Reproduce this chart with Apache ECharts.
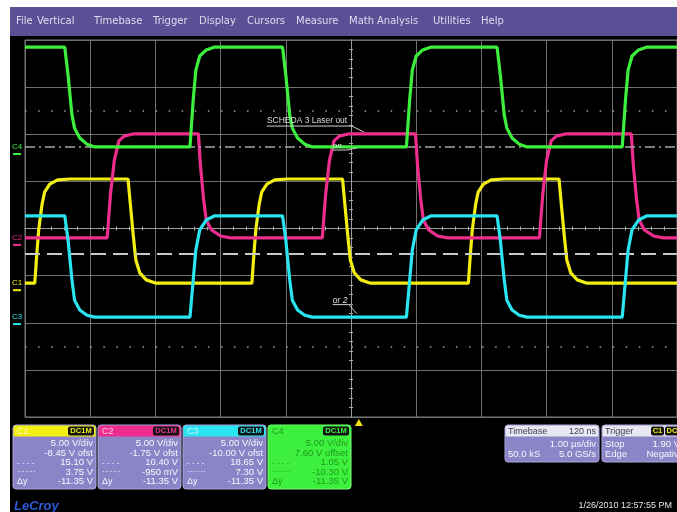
<!DOCTYPE html>
<html>
<head>
<meta charset="utf-8">
<script src="https://cdn.jsdelivr.net/npm/echarts@6/dist/echarts.min.js"></script>
<style>
  html, body { margin: 0; padding: 0; background: #ffffff; }
  #scope { width: 677px; height: 512px; }
</style>
</head>
<body>
<div id="scope"></div>
<script>
// ---- Menu bar ----
const menuItems = ['File', 'Vertical', 'Timebase', 'Trigger', 'Display', 'Cursors', 'Measure', 'Math', 'Analysis', 'Utilities', 'Help'];

// ---- Traces: [time (µs, 1 µs/div), vertical position (divisions from centre)] ----
const c1Trace = [
  [-5.00,-1.16],
  [-4.85,-1.16],[-4.82,-0.56],[-4.79,-0.03],[-4.74,0.50],[-4.70,0.77],[-4.62,0.94],[-4.50,1.03],[-4.31,1.05],
  [-3.42,1.05],[-3.39,0.60],[-3.34,-0.14],[-3.30,-0.67],[-3.24,-0.94],[-3.14,-1.09],[-2.99,-1.16],
  [-1.52,-1.16],[-1.49,-0.56],[-1.46,-0.03],[-1.41,0.50],[-1.37,0.77],[-1.29,0.94],[-1.17,1.03],[-0.98,1.05],
  [-0.13,1.05],[-0.10,0.60],[-0.05,-0.14],[-0.01,-0.67],[0.05,-0.94],[0.15,-1.09],[0.30,-1.16],
  [1.80,-1.16],[1.83,-0.56],[1.86,-0.03],[1.91,0.50],[1.95,0.77],[2.03,0.94],[2.15,1.03],[2.34,1.05],
  [3.19,1.05],[3.22,0.60],[3.27,-0.14],[3.31,-0.67],[3.37,-0.94],[3.47,-1.09],[3.62,-1.16],
  [5.00,-1.16]
];
const c2Trace = [
  [-5.00,-0.20],
  [-3.74,-0.20],[-3.69,0.71],[-3.63,1.45],[-3.56,1.86],[-3.48,1.96],[-3.33,2.01],
  [-2.34,2.01],[-2.31,1.35],[-2.26,0.61],[-2.22,0.18],[-2.14,-0.03],[-2.00,-0.16],[-1.85,-0.20],
  [-0.44,-0.20],[-0.39,0.71],[-0.33,1.45],[-0.26,1.86],[-0.18,1.96],[-0.03,2.01],
  [0.99,2.01],[1.02,1.35],[1.07,0.61],[1.11,0.18],[1.19,-0.03],[1.33,-0.16],[1.48,-0.20],
  [2.89,-0.20],[2.94,0.71],[3.00,1.45],[3.07,1.86],[3.15,1.96],[3.30,2.01],
  [4.30,2.01],[4.33,1.35],[4.38,0.61],[4.42,0.18],[4.50,-0.03],[4.64,-0.16],[4.79,-0.20],
  [5.00,-0.20]
];
const c3Trace = [
  [-5.00,0.27],
  [-4.39,0.27],[-4.34,-0.24],[-4.28,-1.09],[-4.24,-1.52],[-4.16,-1.73],[-4.05,-1.84],[-3.93,-1.88],
  [-2.47,-1.88],[-2.42,-1.09],[-2.38,-0.46],[-2.32,-0.03],[-2.22,0.18],[-2.09,0.27],
  [-1.05,0.27],[-1.00,-0.24],[-0.94,-1.09],[-0.90,-1.52],[-0.82,-1.73],[-0.71,-1.84],[-0.59,-1.88],
  [0.85,-1.88],[0.90,-1.09],[0.94,-0.46],[1.00,-0.03],[1.10,0.18],[1.23,0.27],
  [2.24,0.27],[2.29,-0.24],[2.35,-1.09],[2.39,-1.52],[2.47,-1.73],[2.58,-1.84],[2.70,-1.88],
  [4.16,-1.88],[4.21,-1.09],[4.25,-0.46],[4.31,-0.03],[4.41,0.18],[4.54,0.27],
  [5.00,0.27]
];
const c4Trace = [
  [-5.00,3.85],
  [-4.39,3.85],[-4.34,3.26],[-4.28,2.41],[-4.24,2.13],[-4.16,1.92],[-4.05,1.79],[-3.93,1.73],
  [-2.47,1.73],[-2.42,2.73],[-2.38,3.36],[-2.32,3.66],[-2.22,3.79],[-2.09,3.85],
  [-1.05,3.85],[-1.00,3.26],[-0.94,2.41],[-0.90,2.13],[-0.82,1.92],[-0.71,1.79],[-0.59,1.73],
  [0.85,1.73],[0.90,2.73],[0.94,3.36],[1.00,3.66],[1.10,3.79],[1.23,3.85],
  [2.24,3.85],[2.29,3.26],[2.35,2.41],[2.39,2.13],[2.47,1.92],[2.58,1.79],[2.70,1.73],
  [4.16,1.73],[4.21,2.73],[4.25,3.36],[4.31,3.66],[4.41,3.79],[4.54,3.85],
  [5.00,3.85]
];

// ---- Channel info ----
const chanNames   = ['C1', 'C2', 'C3', 'C4'];
const chanColors  = ['#f2ee12', '#ee2e8e', '#2ae4f0', '#3ef03e'];
const chanTraces  = [c1Trace, c2Trace, c3Trace, c4Trace];
const chanGround  = [-1.16, -0.20, -1.88, 1.73];   // ground marker levels (div)
const chanScale   = ['5.00 V/div', '5.00 V/div', '5.00 V/div', '5.00 V/div'];
const chanOffset  = ['-8.45 V ofst', '-1.75 V ofst', '-10.00 V ofst', '7.60 V offset'];
const cursorA     = ['15.10 V', '10.40 V', '18.65 V', '1.05 V'];
const cursorB     = ['3.75 V', '-950 mV', '7.30 V', '-10.30 V'];
const cursorDelta = ['-11.35 V', '-11.35 V', '-11.35 V', '-11.35 V'];

// ---- Cursors, graticule and trigger ----
const cursorDashDot = 1.73;
const cursorDashed  = -0.54;
const dottedRows    = [2.5, -2.5];
const triggerTime   = 0.12;

// ---- Timebase / trigger box ----
const timebaseText = { title: 'Timebase', delay: '120 ns', scale: '1.00 µs/div', samples: '50.0 kS', rate: '5.0 GS/s' };
const triggerText  = { title: 'Trigger', source: 'C1', coupling: 'DC', mode: 'Stop', level: '1.90 V', type: 'Edge', slope: 'Negative' };
const stampText = '1/26/2010 12:57:55 PM';

const FONT = '"Liberation Sans", Arial, sans-serif';
const MENU_FONT = '"DejaVu Sans", Verdana, sans-serif';
const chart = echarts.init(document.getElementById('scope'), null, { renderer: 'canvas' });

const gridLine = '#707070';
const axisCommon = {
  type: 'value',
  axisLabel: { show: false },
  axisTick: { show: false },
  axisLine: { onZero: true, lineStyle: { color: '#9c9c9c', width: 1 } },
  minorTick: { show: true, splitNumber: 5, length: 2, lineStyle: { color: '#a8a8a8', width: 1 } }
};

chart.setOption({
  animation: false,
  backgroundColor: '#000000',
  grid: { left: 25, top: 40, width: 653, height: 377, show: true, borderColor: '#7a7a7a', borderWidth: 1, containLabel: false },
  xAxis: [
    Object.assign({}, axisCommon, { min: -5, max: 5, interval: 1, position: 'bottom',
      splitLine: { show: true, lineStyle: { color: gridLine, width: 1 } } }),
    Object.assign({}, axisCommon, { min: -5, max: 5, interval: 1, position: 'top', splitLine: { show: false } })
  ],
  yAxis: [
    Object.assign({}, axisCommon, { min: -4, max: 4, interval: 1, position: 'left',
      splitLine: { show: true, lineStyle: { color: gridLine, width: 1 } } }),
    Object.assign({}, axisCommon, { min: -4, max: 4, interval: 1, position: 'right', splitLine: { show: false } })
  ],
  series: [
    {
      type: 'line', data: [], silent: true,
      markLine: {
        silent: true, symbol: 'none', label: { show: false }, animation: false,
        data: [
          ...dottedRows.map(v => ({ yAxis: v, lineStyle: { color: '#a0a0a0', type: [1.5, 11.56], width: 1.5 } })),
          { yAxis: cursorDashDot, lineStyle: { color: '#a8a8a8', type: [10, 4, 2, 4], width: 1.5 } },
          { yAxis: cursorDashed, lineStyle: { color: '#c8c8c8', type: [15, 7], width: 2 } }
        ]
      }
    },
    ...chanTraces.map((d, i) => ({
      name: chanNames[i], type: 'line', data: d, showSymbol: false, symbol: 'none',
      lineStyle: { color: chanColors[i], width: 3.2 }, silent: true, z: 3 + i
    }))
  ]
});

// ---- Decorations (menu, labels, info boxes) ----
const px = (t, v) => chart.convertToPixel({ xAxisIndex: 0, yAxisIndex: 0 }, [t, v]);
const g = [];
const txt = (x, y, text, fill, font, align) => g.push({
  type: 'text', silent: true, z: 100,
  style: { x, y, text, fill, font, textAlign: align || 'left', textVerticalAlign: 'middle' }
});
const rect = (x, y, w, h, fill, r, stroke) => g.push({
  type: 'rect', silent: true, z: 99,
  shape: { x, y, width: w, height: h, r: r || 0 },
  style: { fill, stroke: stroke || null, lineWidth: stroke ? 1 : 0 }
});
const f = (size, style) => `${style ? style + ' ' : ''}${size}px ${FONT}`;

// white margins and menu bar
rect(0, 0, 677, 7, '#ffffff');
rect(0, 0, 10, 512, '#ffffff');
rect(10, 7, 667, 29, '#5a5096');
const menuX = [16, 37, 94, 153, 199, 247, 296, 349, 377, 433, 481];
menuItems.forEach((m, i) => txt(menuX[i], 21.5, m, '#dedcf0', `10px ${MENU_FONT}`));

// ground markers at the left edge
chanNames.forEach((n, i) => {
  const p = px(-5, chanGround[i]);
  txt(12, p[1], n, chanColors[i], f(8));
  rect(13, p[1] + 6, 8, 2, chanColors[i]);
});

// trigger position marker
{
  const p = px(triggerTime, -4);
  g.push({ type: 'polygon', silent: true, z: 100,
    shape: { points: [[p[0] - 4, p[1] + 9], [p[0] + 4, p[1] + 9], [p[0], p[1] + 2]] },
    style: { fill: '#f2e20a' } });
}

// trace annotations
{
  const a = px(-1.29, 2.28);
  txt(a[0], a[1], 'SCHEDA 3 Laser out', '#dcdcdc', f(8.5));
  g.push({ type: 'polyline', silent: true, z: 100, shape: { points: [[a[0], a[1] + 5], [a[0] + 85, a[1] + 5], [a[0] + 97, a[1] + 11]] }, style: { stroke: '#d0d0d0', lineWidth: 1 } });
  const b = px(-0.28, 1.75);
  txt(b[0], b[1], 'on', '#e0e0e0', f(8, 'italic'));
  g.push({ type: 'polyline', silent: true, z: 100, shape: { points: [[b[0], b[1] + 4], [b[0] + 14, b[1] + 4], [b[0] + 24, b[1] + 2]] }, style: { stroke: '#d0d0d0', lineWidth: 1 } });
  const c = px(-0.28, -1.53);
  txt(c[0], c[1], 'or 2', '#e0e0e0', f(8.5, 'italic'));
  g.push({ type: 'polyline', silent: true, z: 100, shape: { points: [[c[0], c[1] + 4], [c[0] + 16, c[1] + 4], [c[0] + 24, c[1] + 13]] }, style: { stroke: '#d0d0d0', lineWidth: 1 } });
}

// channel information boxes
const rowY = [443.5, 453, 462.5, 472, 481.5];
chanNames.forEach((n, i) => {
  const x0 = 13 + i * 85, y0 = 425, w = 83, h = 64;
  const isC4 = i === 3;
  const body = isC4 ? chanColors[i] : '#8b84c6';
  const ink = isC4 ? '#1e9a1e' : '#f6f6ff';
  rect(x0, y0, w, h, body, 3, isC4 ? '#7cff7c' : '#aca6dc');
  rect(x0 + 0.5, y0 + 0.5, w - 1, 11, chanColors[i], [3, 3, 0, 0]);
  txt(x0 + 4, y0 + 6.5, n, isC4 ? '#1e9a1e' : 'rgba(255,255,255,0.75)', f(9));
  rect(x0 + w - 28, y0 + 1.5, 26, 9, '#141414', 2);
  txt(x0 + w - 15, y0 + 6.3, 'DC1M', chanColors[i], f(7.5, 'bold'), 'center');
  const vals = [chanScale[i], chanOffset[i], cursorA[i], cursorB[i], cursorDelta[i]];
  vals.forEach((v, k) => txt(x0 + w - 3, rowY[k], v, ink, f(9.5), 'right'));
  txt(x0 + 4, rowY[2], '- - - -', ink, f(8));
  txt(x0 + 4, rowY[3], '·······', ink, f(8));
  txt(x0 + 4, rowY[4], 'Δy', ink, f(9));
});

// timebase box
{
  const x0 = 505, y0 = 425, w = 94, h = 37;
  rect(x0, y0, w, h, '#8b84c6', 3, '#aca6dc');
  rect(x0 + 0.5, y0 + 0.5, w - 1, 11, '#e8e8f2', [3, 3, 0, 0]);
  txt(x0 + 3, y0 + 6.5, timebaseText.title, '#3a3a55', f(9));
  txt(x0 + w - 3, y0 + 6.5, timebaseText.delay, '#3a3a55', f(9), 'right');
  txt(x0 + w - 3, 444, timebaseText.scale, '#f6f6ff', f(9.5), 'right');
  txt(x0 + 3, 454, timebaseText.samples, '#f6f6ff', f(9.5));
  txt(x0 + w - 3, 454, timebaseText.rate, '#f6f6ff', f(9.5), 'right');
}
// trigger box
{
  const x0 = 602, y0 = 425, w = 90, h = 37;
  rect(x0, y0, w, h, '#8b84c6', 3, '#aca6dc');
  rect(x0 + 0.5, y0 + 0.5, w - 1, 11, '#e8e8f2', [3, 3, 0, 0]);
  txt(x0 + 3, y0 + 6.5, triggerText.title, '#3a3a55', f(9));
  rect(651, y0 + 1.5, 13, 9, '#141414', 2);
  txt(657.5, y0 + 6.3, triggerText.source, chanColors[0], f(7.5, 'bold'), 'center');
  rect(665, y0 + 1.5, 14, 9, '#141414', 2);
  txt(672, y0 + 6.3, triggerText.coupling, chanColors[0], f(7.5, 'bold'), 'center');
  txt(x0 + 3, 444, triggerText.mode, '#f6f6ff', f(9.5));
  txt(680, 444, triggerText.level, '#f6f6ff', f(9.5), 'right');
  txt(x0 + 3, 454, triggerText.type, '#f6f6ff', f(9.5));
  txt(684, 454, triggerText.slope, '#f6f6ff', f(9.5), 'right');
}

// brand and time stamp
txt(14, 506, 'LeCroy', '#2c5ad8', f(13, 'italic bold'));
txt(672, 506, stampText, '#e6e6e6', f(9), 'right');

chart.setOption({ graphic: { elements: g } });
</script>
</body>
</html>
